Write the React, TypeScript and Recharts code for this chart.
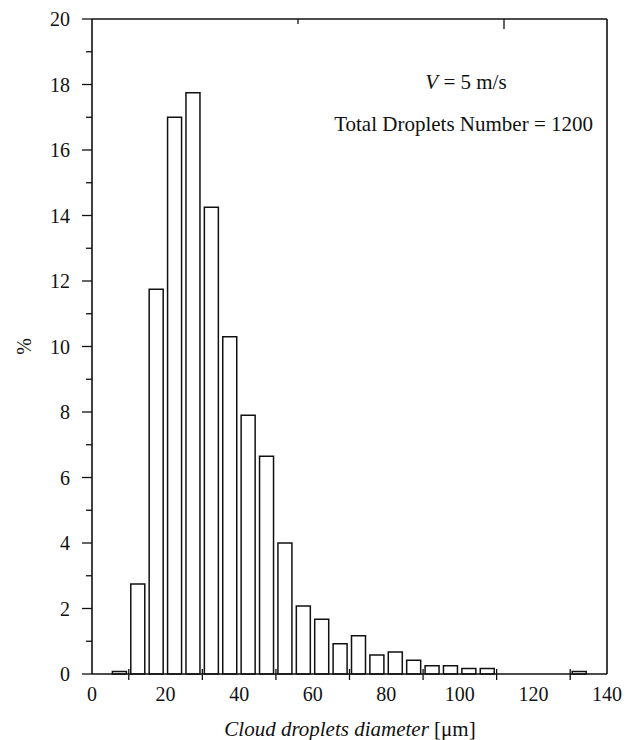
import { ComposedChart, Bar, XAxis, YAxis, Customized } from 'recharts'

const binCenters = [
  7.5, 12.5, 17.5, 22.5, 27.5, 32.5, 37.5, 42.5, 47.5, 52.5, 57.5, 62.5, 67.5,
  72.5, 77.5, 82.5, 87.5, 92.5, 97.5, 102.5, 107.5, 112.5, 117.5, 122.5, 127.5, 132.5,
]
const percents = [
  0.08, 2.75, 11.75, 17.0, 17.75, 14.25, 10.3, 7.9, 6.65, 4.0, 2.08, 1.67, 0.92,
  1.17, 0.58, 0.67, 0.42, 0.25, 0.25, 0.17, 0.17, 0, 0, 0, 0, 0.08,
]
const xTicks = [0, 10, 20, 30, 40, 50, 60, 70, 80, 90, 100, 110, 120, 130, 140]
const yTicks = [0, 1, 2, 3, 4, 5, 6, 7, 8, 9, 10, 11, 12, 13, 14, 15, 16, 17, 18, 19, 20]

const data = binCenters.map((d, i) => ({ d, pct: percents[i] }))

const FONT = '"Liberation Serif", "Times New Roman", serif'
const INK = '#111'

function BottomTick({ x, y, payload }: any) {
  const v = payload.value
  return (
    <g>
      {v % 20 === 10 && <line x1={x} x2={x} y1={y - 5} y2={y + 6} stroke={INK} strokeWidth={1.3} />}
      {v % 20 === 0 && (
        <text x={x} y={y + 27} textAnchor="middle" fontFamily={FONT} fontSize={20} fill={INK}>
          {v}
        </text>
      )}
    </g>
  )
}

function TopTick({ x, y, payload }: any) {
  const len = payload.value % 20 === 0 ? 10 : 5
  if (payload.value === 0 || payload.value === 140) return null
  return <line x1={x} x2={x} y1={y} y2={y + len} stroke={INK} strokeWidth={1.3} />
}

function LeftTick({ x, y, payload }: any) {
  const major = payload.value % 2 === 0
  return (
    <g>
      <line x1={x} x2={x - (major ? 10 : 6)} y1={y} y2={y} stroke={INK} strokeWidth={1.3} />
      {major && (
        <text x={x - 22} y={y + 7} textAnchor="end" fontFamily={FONT} fontSize={20} fill={INK}>
          {payload.value}
        </text>
      )}
    </g>
  )
}

function RightTick({ x, y, payload }: any) {
  if (payload.value === 0 || payload.value === 20) return null
  const len = payload.value % 2 === 0 ? 9 : 5
  return <line x1={x} x2={x - len} y1={y} y2={y} stroke={INK} strokeWidth={1.3} />
}

function Notes() {
  return (
    <g fontFamily={FONT} fontSize={21} fill={INK}>
      <text x={466} y={89} textAnchor="middle">
        <tspan fontStyle="italic">V</tspan> = 5 m/s
      </text>
      <text x={593} y={131} textAnchor="end">
        Total Droplets Number = 1200
      </text>
    </g>
  )
}

export default function App() {
  return (
    <div style={{ position: 'absolute', left: 0, top: 0, background: '#fff' }}>
      <ComposedChart
        width={626}
        height={740}
        data={data}
        margin={{ top: 18, right: 18, bottom: 0, left: 0 }}
      >
        <XAxis
          dataKey="d"
          type="number"
          domain={[0, 140]}
          ticks={xTicks}
          interval={0}
          height={66}
          tickSize={0}
          tickMargin={0}
          tick={<BottomTick />}
          tickLine={false}
          axisLine={{ stroke: INK, strokeWidth: 1.6 }}
          label={{
            content: () => (
              <text x={350} y={736} textAnchor="middle" fontFamily={FONT} fontSize={21} fill={INK}>
                <tspan fontStyle="italic">Cloud droplets diameter</tspan> [μm]
              </text>
            ),
          }}
        />
        <XAxis
          xAxisId="top"
          orientation="top"
          type="number"
          domain={[0, 140]}
          ticks={xTicks}
          interval={0}
          height={1}
          tickSize={0}
          tickMargin={0}
          tick={<TopTick />}
          tickLine={false}
          axisLine={{ stroke: INK, strokeWidth: 1.6 }}
        />
        <YAxis
          type="number"
          domain={[0, 20]}
          ticks={yTicks}
          interval={0}
          width={92}
          tickSize={0}
          tickMargin={0}
          tick={<LeftTick />}
          tickLine={false}
          axisLine={{ stroke: INK, strokeWidth: 1.6 }}
          label={{
            value: '%',
            angle: -90,
            position: 'insideLeft',
            offset: 24,
            style: { fontFamily: FONT, fontSize: 20, fill: INK, textAnchor: 'middle' },
          }}
        />
        <YAxis
          yAxisId="right"
          orientation="right"
          type="number"
          domain={[0, 20]}
          ticks={yTicks}
          interval={0}
          width={1}
          tickSize={0}
          tickMargin={0}
          tick={<RightTick />}
          tickLine={false}
          axisLine={{ stroke: INK, strokeWidth: 1.6 }}
        />
        <Bar
          dataKey="pct"
          barSize={14}
          fill="#fff"
          stroke={INK}
          strokeWidth={1.5}
          isAnimationActive={false}
        />
        <Customized component={Notes} />
      </ComposedChart>
    </div>
  )
}
